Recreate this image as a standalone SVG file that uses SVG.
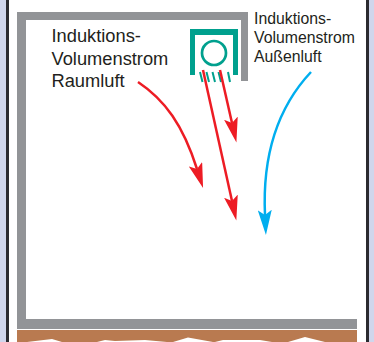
<svg xmlns="http://www.w3.org/2000/svg" width="374" height="342" viewBox="0 0 374 342">
<style>
.t{font-family:"Liberation Sans",Arial,sans-serif;fill:#231f20}
.t1{font-size:18.300px}.t2{font-size:15.800px}
.wall{fill:#929497}.teal{fill:#00a08e}
.r{fill:none;stroke:#ed1c24;stroke-width:2.500}
.b{fill:none;stroke:#00aeef;stroke-width:2.500}
.slat{stroke:#00a08e;stroke-width:2}
</style>
<defs>
<marker id="ar" markerUnits="userSpaceOnUse" markerWidth="26" markerHeight="14" refX="5" refY="7" orient="auto" viewBox="0 0 26 14"><path d="M25 7L0 0L5 7L0 14Z" fill="#ed1c24"/></marker>
<marker id="ab" markerUnits="userSpaceOnUse" markerWidth="26" markerHeight="14" refX="5" refY="7" orient="auto" viewBox="0 0 26 14"><path d="M25 7L0 0L5 7L0 14Z" fill="#00aeef"/></marker>
</defs>
<rect width="374" height="342" fill="#fff"/>
<g id="frame">
<rect x="0" y="0" width="6" height="342" fill="#d0d6ec"/>
<rect x="6" y="0" width="3" height="342" fill="#2b2b30"/>
<rect x="366" y="0" width="3" height="342" fill="#2b2b30"/>
<rect x="369" y="0" width="5" height="342" fill="#d0d6ec"/>
</g>
<g id="room">
<path class="wall" d="M17 12H248V81H241V20H26V319H357V329H17Z"/>
<path d="M17 330H357V342H17Z" fill="#b97a50"/>
<path d="M27 342L52 339L62 342ZM97 342L105 340L115 341L145 340L167 342ZM173 342L188 337.500L213 342ZM215 342L223 340L260 340L272 342ZM288 342L305 337L325 342Z" fill="#fff"/>
</g>
<g id="unit">
<path class="teal" d="M190 29H238V75H233V35H195V75H190Z"/>
<circle cx="214" cy="53" r="12" fill="none" stroke="#00a08e" stroke-width="2.700"/>
<path class="slat" d="M200 72L202.500 82M206.500 72L209 82M212.500 72L215 82M218.500 72L221 82M228 72L230 82"/>
</g>
<g id="connectors">
<path class="r" d="M138 82C165 100 183 125 197 169" marker-end="url(#ar)"/>
<path class="r" d="M203 70L232 201" marker-end="url(#ar)"/>
<path class="r" d="M220 70L232 123" marker-end="url(#ar)"/>
<path class="b" d="M311 72C280 105 262 150 265 215" marker-end="url(#ab)"/>
</g>
<g id="labels">
<text class="t t1" x="51.500" y="42">Induktions-</text>
<text class="t t1" x="51.500" y="65">Volumenstrom</text>
<text class="t t1" x="51.500" y="87">Raumluft</text>
<text class="t t2" x="254" y="24">Induktions-</text>
<text class="t t2" x="254" y="43">Volumenstrom</text>
<text class="t t2" x="254" y="62">Außenluft</text>
</g>
</svg>
